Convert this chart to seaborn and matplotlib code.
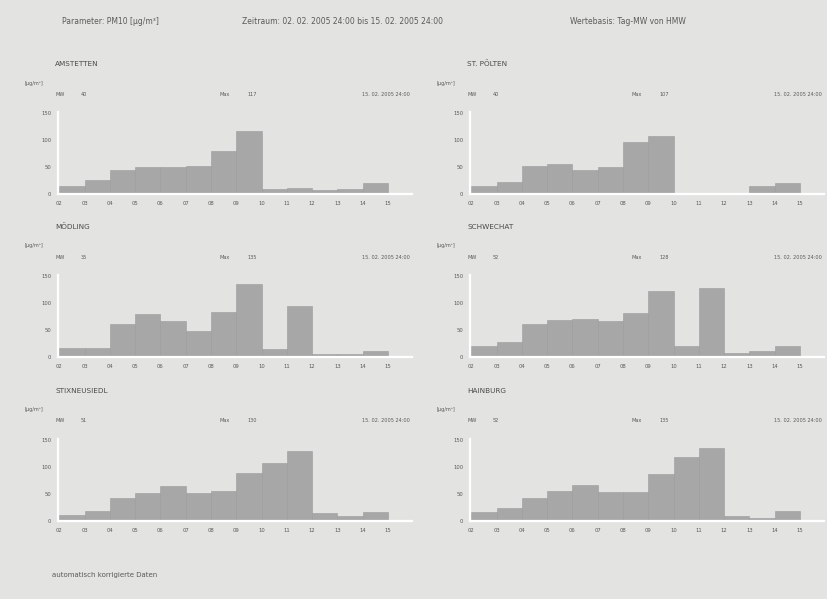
import numpy as np
import pandas as pd
import seaborn as sns
import matplotlib.pyplot as plt

# Tagesmittelwerte PM10, 03.02. - 15.02.2005
days = ['02', '03', '04', '05', '06', '07', '08', '09', '10', '11', '12', '13', '14', '15']
amstetten = [15, 26, 44, 50, 50, 51, 79, 117, 10, 12, 7, 10, 21]
st_poelten = [15, 23, 52, 55, 45, 50, 97, 107, 2, 0, 2, 14, 20]
moedling = [17, 17, 62, 79, 66, 49, 84, 135, 14, 94, 6, 6, 12]
schwechat = [20, 28, 62, 69, 71, 66, 81, 122, 21, 128, 8, 11, 20]
stixneusiedl = [12, 18, 42, 51, 64, 51, 55, 89, 108, 130, 15, 10, 17]
hainburg = [17, 24, 43, 55, 66, 53, 53, 87, 118, 135, 9, 6, 18]

stations = ['AMSTETTEN', 'ST. PÖLTEN', 'MÖDLING', 'SCHWECHAT', 'STIXNEUSIEDL', 'HAINBURG']
series = [amstetten, st_poelten, moedling, schwechat, stixneusiedl, hainburg]
mw_labels = ['40', '40', '35', '52', '51', '52']
max_labels = ['117', '107', '135', '128', '130', '135']
yticks = [0, 50, 100, 150]

bg = '#e3e3e1'
txt = '#5a5a5a'
bar_col = '#a7a7a7'

sns.set_theme(style='white')
plt.rcParams['font.family'] = ['DejaVu Sans']

W, H = 827, 599
fig = plt.figure(figsize=(W / 100, H / 100), dpi=100, facecolor=bg)


def fx(x):
    return x / W


def fy(y):
    return 1 - y / H


fig.text(fx(62), fy(21), 'Parameter: PM10 [µg/m³]', fontsize=5.5, color=txt, va='center')
fig.text(fx(242), fy(21), 'Zeitraum: 02. 02. 2005 24:00 bis 15. 02. 2005 24:00', fontsize=5.5, color=txt, va='center')
fig.text(fx(570), fy(21), 'Wertebasis: Tag-MW von HMW', fontsize=5.5, color=txt, va='center')
fig.text(fx(52), fy(575), 'automatisch korrigierte Daten', fontsize=5, color=txt, va='center')

lefts = [58, 470]
bottoms = [194, 357, 521]
aw, ah = 354, 82

for i, (name, vals) in enumerate(zip(stations, series)):
    col, row = i % 2, i // 2
    x0, y0 = lefts[col], bottoms[row]
    ax = fig.add_axes([fx(x0), fy(y0), fx(aw), ah / H])
    ax.set_facecolor('none')

    df = pd.DataFrame({'tag': days[1:], 'wert': vals})
    sns.barplot(data=df, x='tag', y='wert', width=1.0, color=bar_col,
                edgecolor='#9c9c9c', linewidth=0.4, saturation=1, ax=ax)

    ax.set_xlim(-0.55, 13.45)
    ax.set_ylim(0, 152)
    ax.set_xticks(np.arange(len(days)) - 0.5)
    ax.set_xticklabels(days)
    ax.set_yticks(yticks)
    ax.set_xlabel('')
    ax.set_ylabel('')
    ax.tick_params(length=0, labelsize=3.8, labelcolor=txt, pad=5)
    for s in ['top', 'right']:
        ax.spines[s].set_visible(False)
    for s in ['left', 'bottom']:
        ax.spines[s].set_color('white')
        ax.spines[s].set_linewidth(1.6)

    # Beschriftungen oberhalb des Diagramms
    top = y0 - 130
    fig.text(fx(x0 - 3), fy(top), name, fontsize=5.2, color='#4a4a4a', va='center')
    fig.text(fx(x0 - 33), fy(top + 19), '[µg/m³]', fontsize=3.6, color=txt, va='center')
    fig.text(fx(x0 - 3), fy(top + 30), 'MW', fontsize=3.6, color=txt, va='center')
    fig.text(fx(x0 + 23), fy(top + 30), mw_labels[i], fontsize=3.6, color=txt, va='center')
    fig.text(fx(x0 + 162), fy(top + 30), 'Max', fontsize=3.6, color=txt, va='center')
    fig.text(fx(x0 + 190), fy(top + 30), max_labels[i], fontsize=3.6, color=txt, va='center')
    fig.text(fx(x0 + aw - 2), fy(top + 30), '15. 02. 2005 24:00', fontsize=3.6, color=txt,
             va='center', ha='right')

fig.savefig('out.png', dpi=100, facecolor=bg)
